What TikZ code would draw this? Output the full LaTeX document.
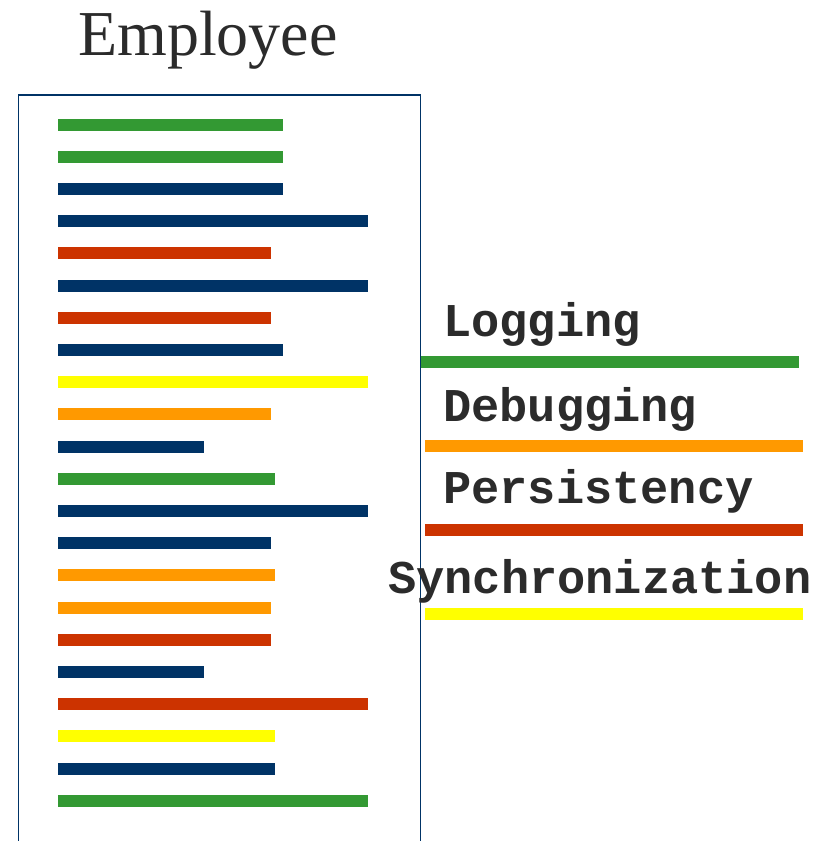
\documentclass[tikz,border=0pt]{standalone}
\usepackage{fontspec}
\setmainfont{Liberation Serif}
\newfontfamily\codefont{Liberation Mono}
\usetikzlibrary{positioning}
\definecolor{logcol}{HTML}{339933}
\definecolor{dbgcol}{HTML}{FF9900}
\definecolor{perscol}{HTML}{CC3300}
\definecolor{synccol}{HTML}{FFFF00}
\definecolor{codecol}{HTML}{003366}
\definecolor{inkcol}{HTML}{2B2B2B}

\begin{document}
\begin{tikzpicture}[x=1pt,y=-1pt,
  bar/.style={line width=12pt},
  legend text/.style={anchor=base west,inner sep=0pt,text=inkcol,
    font=\codefont\bfseries\fontsize{47}{47}\selectfont}]
\useasboundingbox (0,0) rectangle (830,841);

% class box, open at the bottom
\draw[codecol,line width=1.5pt] (18.5,841) -- (18.5,95) -- (420.5,95) -- (420.5,841);
\node (title) [anchor=base west,inner sep=0pt,text=inkcol,
  font=\fontsize{64}{64}\selectfont] at (78,55) {Employee};

% lines of code, one bar each
\foreach \len/\col [count=\i from 0] in {
    283/logcol, 283/logcol, 283/codecol, 368/codecol, 271/perscol,
    368/codecol, 271/perscol, 283/codecol, 368/synccol, 271/dbgcol,
    204/codecol, 275/logcol, 368/codecol, 271/codecol, 275/dbgcol,
    271/dbgcol, 271/perscol, 204/codecol, 368/perscol, 275/synccol,
    275/codecol, 368/logcol}
  \draw[bar,\col] (58,124.5+32.2*\i) -- (\len,124.5+32.2*\i);

% legend
\node (logging) [legend text] at (443,336.5) {Logging};
\node (debugging) [legend text] at (443,421.5) {Debugging};
\node (persistency) [legend text] at (443,503.5) {Persistency};
\node (sync) [legend text] at (388,593.5) {Synchronization};

\coordinate (logA) at (421,361.5);  \coordinate (logB) at (799,361.5);
\coordinate (dbgA) at (425,445.7);  \coordinate (dbgB) at (803,445.7);
\coordinate (persA) at (425,529.7); \coordinate (persB) at (803,529.7);
\coordinate (syncA) at (425,613.7); \coordinate (syncB) at (803,613.7);

\draw[bar,logcol] (logA) -- (logB);
\draw[bar,dbgcol] (dbgA) -- (dbgB);
\draw[bar,perscol] (persA) -- (persB);
\draw[bar,synccol] (syncA) -- (syncB);

\end{tikzpicture}
\end{document}
